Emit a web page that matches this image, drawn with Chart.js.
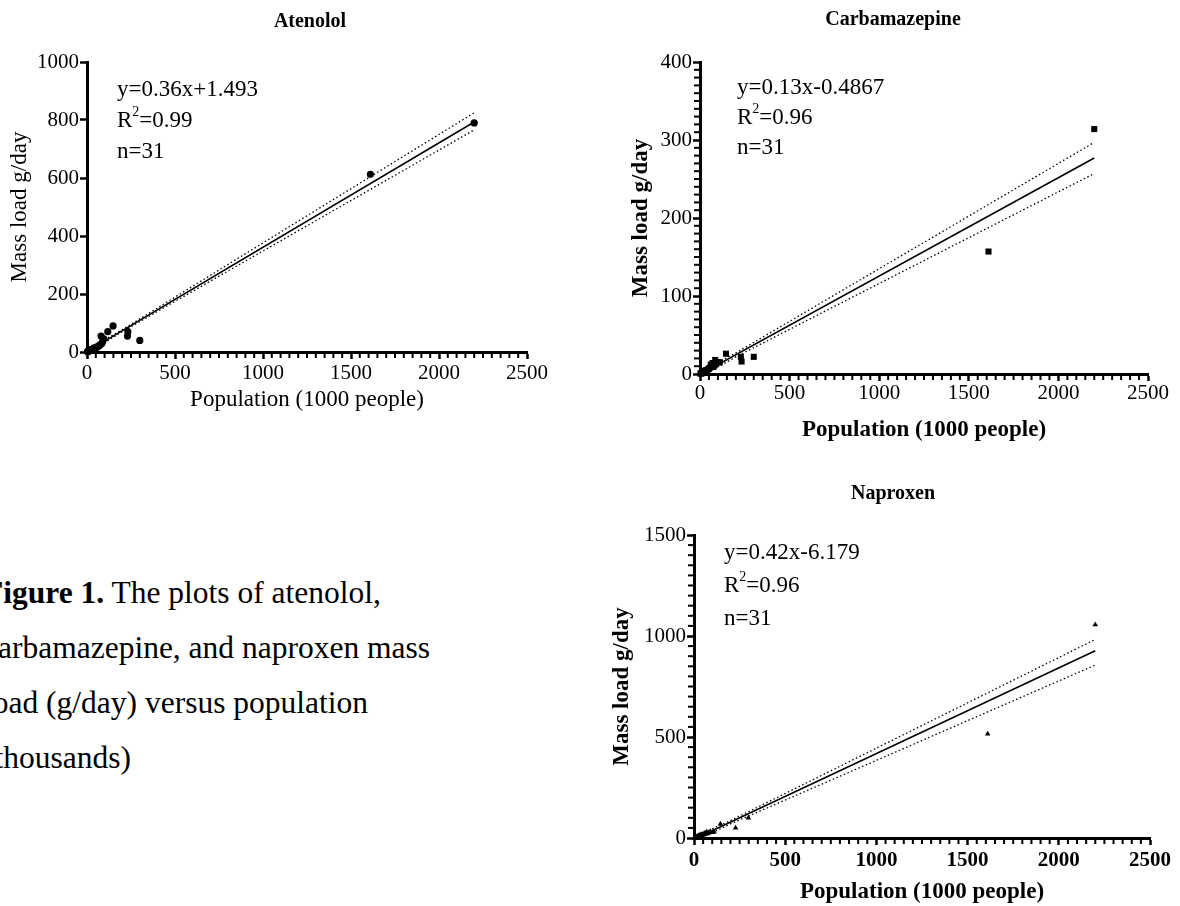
<!DOCTYPE html>
<html>
<head>
<meta charset="utf-8">
<script src="https://cdn.jsdelivr.net/npm/chart.js@4.4.1/dist/chart.umd.min.js"></script>
<style>
  html, body { margin: 0; padding: 0; background: #fff; }
  body { width: 1180px; height: 906px; position: relative; overflow: hidden; font-family: "Liberation Serif", "Times New Roman", serif; }
  .box { position: absolute; }
  #caption { position: absolute; left: -16px; top: 565px; font-size: 31.5px; line-height: 55px; color: #000; white-space: nowrap; }
</style>
</head>
<body>
<div class="box" style="left:0;top:0"><canvas id="atenololChart"></canvas></div>
<div class="box" style="left:590px;top:0"><canvas id="carbChart"></canvas></div>
<div class="box" style="left:590px;top:450px"><canvas id="naproxenChart"></canvas></div>
<div id="caption"><b>Figure 1.</b> The plots of atenolol,<br>carbamazepine, and naproxen mass<br>load (g/day) versus population<br>(thousands)</div>

<script>
const FONT = '"Liberation Serif", "Times New Roman", serif';

// Atenolol - population (1000 people) vs mass load g/day
const atenololPop  = [2200, 1610, 300, 232, 230, 148, 118, 80, 90, 95, 85, 75, 70, 65, 60, 55, 50, 45, 40, 35, 30, 25, 22, 20, 18, 15, 12, 10, 8, 5, 3];
const atenololLoad = [790, 613, 40, 70, 55, 90, 70, 55, 38, 45, 30, 25, 22, 20, 18, 17, 15, 12, 14, 10, 9, 8, 8, 7, 6, 5, 4, 3, 3, 2, 1];
const atenololFitX = [0, 2200];
const atenololFitY = [1.5, 793];
const atenololBandX = [0, 200, 2200];
const atenololUpper = [8, 77, 825];
const atenololLower = [-5, 70, 766];

// Carbamazepine
const carbPop  = [2200, 1610, 300, 232, 228, 145, 110, 100, 90, 85, 80, 75, 70, 65, 60, 55, 50, 45, 40, 35, 30, 25, 22, 20, 18, 15, 12, 10, 8, 5, 3];
const carbLoad = [314, 157, 22, 16, 22, 26, 15, 15, 13, 18, 11, 9, 14, 10, 12, 8, 7, 6, 5, 5, 4, 3, 4, 3, 2, 2, 2, 1, 1, 1, 0.5];
const carbFitX = [0, 2200];
const carbFitY = [-0.5, 277];
const carbBandX = [0, 200, 2200];
const carbUpper = [3, 27, 297];
const carbLower = [-4, 22, 257];

// Naproxen
const naproxenPop  = [2200, 1610, 298, 228, 145, 110, 100, 90, 80, 75, 70, 65, 60, 55, 50, 45, 40, 38, 35, 30, 28, 25, 22, 20, 18, 15, 12, 10, 8, 5, 3];
const naproxenLoad = [1056, 515, 100, 50, 70, 30, 28, 32, 25, 22, 30, 20, 25, 18, 20, 12, 15, 18, 10, 14, 8, 12, 6, 9, 5, 7, 4, 5, 3, 2, 1];
const naproxenFitX = [0, 2200];
const naproxenFitY = [-6.2, 927];
const naproxenBandX = [0, 200, 2200];
const naproxenUpper = [5, 86, 983];
const naproxenLower = [-17, 70, 856];

const xTicks = [0, 500, 1000, 1500, 2000, 2500];

function toPoints(xs, ys) {
    return xs.map((x, i) => ({ x: x, y: ys[i] }));
}

// 畫次刻度、圖標題、回歸式文字
const axisExtras = {
    id: 'axisExtras',
    afterDraw(chart, args, o) {
        const ctx = chart.ctx;
        const area = chart.chartArea;
        const xs = chart.scales.x, ys = chart.scales.y;
        ctx.save();
        ctx.setLineDash([]);
        ctx.fillStyle = '#000';
        const xMinor = o.xMinor, xMajor = o.xMajor, yMinor = o.yMinor, yMajor = o.yMajor;
        if (xMinor > 0) {
            for (let v = xs.min + xMinor; v < xs.max; v += xMinor) {
                if (v % xMajor === 0) continue;
                const px = xs.getPixelForValue(v);
                ctx.fillRect(px - 1, area.bottom, 2, 6);
            }
        }
        if (yMinor > 0) {
            for (let v = ys.min + yMinor; v < ys.max; v += yMinor) {
                if (v % yMajor === 0) continue;
                const py = ys.getPixelForValue(v);
                ctx.fillRect(area.left - 6, py - 1, 6, 2);
            }
        }

        ctx.textAlign = 'center';
        ctx.textBaseline = 'middle';
        ctx.font = 'bold 20px ' + FONT;
        ctx.fillText(o.title, o.titleX, o.titleY);

        // y=..., R2=..., n=...
        const size = o.noteSize;
        const x0 = area.left + o.noteDx;
        let y = area.top + o.noteDy;
        ctx.textAlign = 'left';
        ctx.font = size + 'px ' + FONT;
        ctx.fillText(o.eq, x0, y);
        y += o.noteGap;
        ctx.fillText('R', x0, y);
        let w = ctx.measureText('R').width;
        ctx.font = Math.round(size * 0.62) + 'px ' + FONT;
        ctx.fillText('2', x0 + w, y - size * 0.36);
        w += ctx.measureText('2').width;
        ctx.font = size + 'px ' + FONT;
        ctx.fillText('=' + o.r2, x0 + w, y);
        y += o.noteGap;
        ctx.fillText('n=' + o.n, x0, y);
        ctx.restore();
    }
};

function makeChart(id, c) {
    const canvas = document.getElementById(id);
    canvas.width = c.w;
    canvas.height = c.h;
    const titleSize = 23;
    const lh = titleSize * 1.2;
    const titleWeight = c.bold ? 'bold' : 'normal';
    return new Chart(canvas.getContext('2d'), {
        type: 'scatter',
        data: {
            datasets: [
                { data: toPoints(c.bandX, c.upper), showLine: true, borderColor: '#000', borderWidth: 1.3, borderDash: [1.5, 2.5], pointRadius: 0 },
                { data: toPoints(c.bandX, c.lower), showLine: true, borderColor: '#000', borderWidth: 1.3, borderDash: [1.5, 2.5], pointRadius: 0 },
                { data: toPoints(c.fitX, c.fitY), showLine: true, borderColor: '#000', borderWidth: 1.6, pointRadius: 0 },
                { data: toPoints(c.xs, c.ys), pointStyle: c.marker, pointRadius: c.markerSize, backgroundColor: '#000', borderColor: '#000', borderWidth: 0, clip: false }
            ]
        },
        options: {
            responsive: false,
            animation: false,
            layout: { padding: { left: 0, top: c.area[1], right: c.w - c.area[2], bottom: 0 } },
            plugins: {
                legend: { display: false },
                tooltip: { enabled: false },
                axisExtras: c.extras
            },
            scales: {
                x: {
                    type: 'linear', min: 0, max: 2500,
                    afterFit: s => { s.height = c.h - c.area[3]; },
                    afterBuildTicks: s => { s.ticks = xTicks.map(v => ({ value: v })); },
                    ticks: { padding: c.xTickPad, color: '#000', callback: v => String(v),
                             font: { family: FONT, size: 21, weight: c.xTickBold ? 'bold' : 'normal' } },
                    grid: { drawOnChartArea: false, drawTicks: true, tickLength: 7, tickWidth: 2.5, tickColor: '#000' },
                    border: { display: true, width: 3, color: '#000' },
                    title: { display: true, text: 'Population (1000 people)', color: '#000',
                             font: { family: FONT, size: titleSize, weight: titleWeight },
                             padding: { top: 0, bottom: Math.max(0, c.h - c.xTitleY - lh / 2) } }
                },
                y: {
                    type: 'linear', min: 0, max: c.yMax,
                    afterFit: s => { s.width = c.area[0]; },
                    afterBuildTicks: s => { s.ticks = c.yTicks.map(v => ({ value: v })); },
                    ticks: { padding: 1, color: '#000', callback: v => String(v), font: { family: FONT, size: 21 } },
                    grid: { drawOnChartArea: false, drawTicks: true, tickLength: 7, tickWidth: 2.5, tickColor: '#000' },
                    border: { display: true, width: 3, color: '#000' },
                    title: { display: true, text: 'Mass load g/day', color: '#000',
                             font: { family: FONT, size: titleSize, weight: titleWeight },
                             padding: { top: Math.max(0, c.yTitleX - lh / 2), bottom: 0 } }
                }
            }
        },
        plugins: [axisExtras]
    });
}

makeChart('atenololChart', {
    w: 590, h: 420, area: [87, 62, 527, 352], xTitleY: 400, yTitleX: 20, bold: false, xTickBold: false, xTickPad: 2,
    yMax: 1000, yTicks: [0, 200, 400, 600, 800, 1000],
    xs: atenololPop, ys: atenololLoad, marker: 'circle', markerSize: 3.6,
    fitX: atenololFitX, fitY: atenololFitY, bandX: atenololBandX, upper: atenololUpper, lower: atenololLower,
    extras: { title: 'Atenolol', titleX: 310, titleY: 22, xMinor: 50, xMajor: 500, yMinor: 0, yMajor: 200,
              eq: 'y=0.36x+1.493', r2: '0.99', n: 31, noteSize: 23, noteDx: 30, noteDy: 28, noteGap: 31 }
});

makeChart('carbChart', {
    w: 590, h: 450, area: [110, 62, 558, 374], xTitleY: 430, yTitleX: 51, bold: true, xTickBold: false, xTickPad: 0,
    yMax: 400, yTicks: [0, 100, 200, 300, 400],
    xs: carbPop, ys: carbLoad, marker: 'rect', markerSize: 4.3,
    fitX: carbFitX, fitY: carbFitY, bandX: carbBandX, upper: carbUpper, lower: carbLower,
    extras: { title: 'Carbamazepine', titleX: 303, titleY: 20, xMinor: 50, xMajor: 500, yMinor: 10, yMajor: 100,
              eq: 'y=0.13x-0.4867', r2: '0.96', n: 31, noteSize: 23, noteDx: 37, noteDy: 26, noteGap: 30 }
});

makeChart('naproxenChart', {
    w: 590, h: 456, area: [104, 85, 560, 388], xTitleY: 443, yTitleX: 32, bold: true, xTickBold: true, xTickPad: 3,
    yMax: 1500, yTicks: [0, 500, 1000, 1500],
    xs: naproxenPop, ys: naproxenLoad, marker: 'triangle', markerSize: 3.2,
    fitX: naproxenFitX, fitY: naproxenFitY, bandX: naproxenBandX, upper: naproxenUpper, lower: naproxenLower,
    extras: { title: 'Naproxen', titleX: 303, titleY: 44, xMinor: 50, xMajor: 500, yMinor: 50, yMajor: 500,
              eq: 'y=0.42x-6.179', r2: '0.96', n: 31, noteSize: 23, noteDx: 30, noteDy: 18, noteGap: 33 }
});
</script>
</body>
</html>
